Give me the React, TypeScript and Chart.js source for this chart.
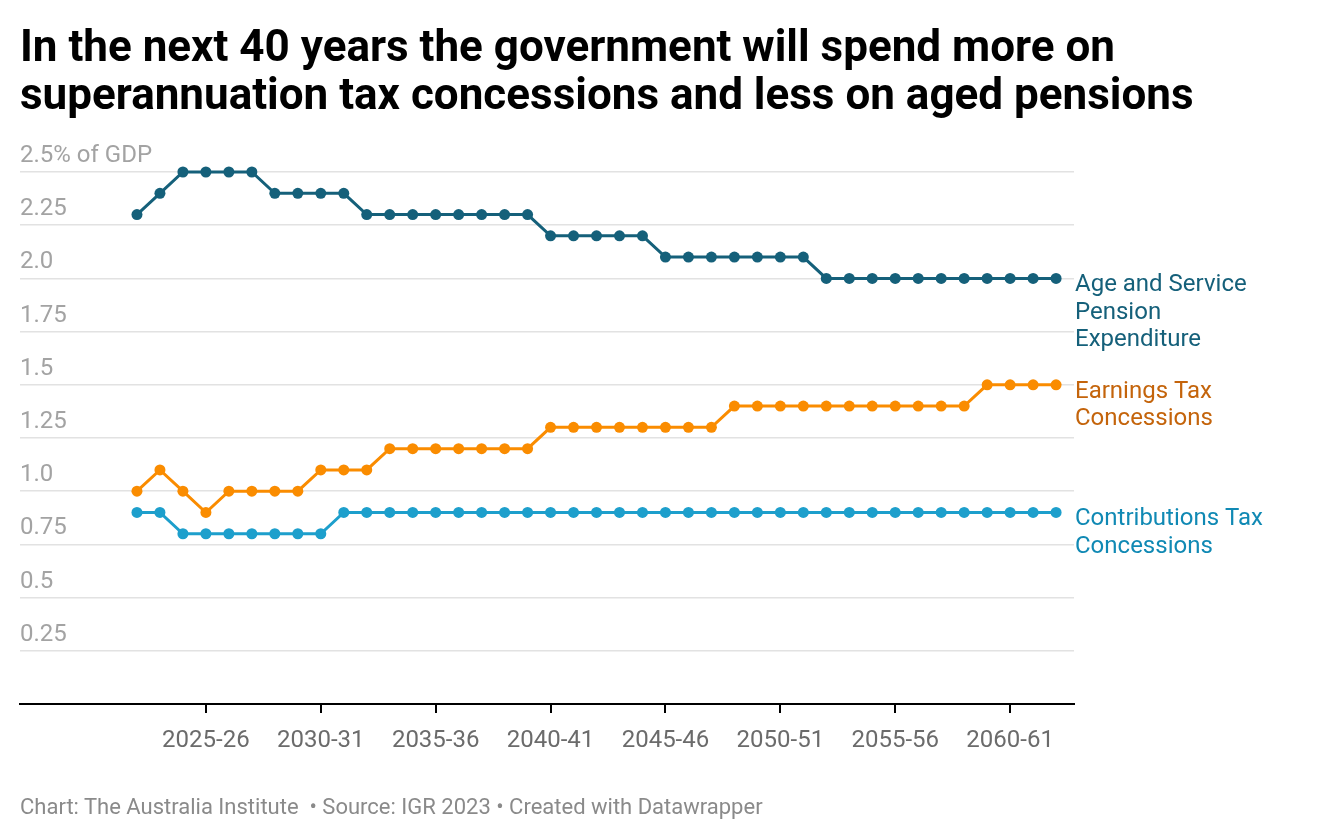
import React, { useEffect, useRef } from "react";
import { Chart, registerables } from "chart.js";

Chart.register(...registerables);

const categories = [
  "2022-23", "2023-24", "2024-25", "2025-26", "2026-27", "2027-28", "2028-29", "2029-30",
  "2030-31", "2031-32", "2032-33", "2033-34", "2034-35", "2035-36", "2036-37", "2037-38",
  "2038-39", "2039-40", "2040-41", "2041-42", "2042-43", "2043-44", "2044-45", "2045-46",
  "2046-47", "2047-48", "2048-49", "2049-50", "2050-51", "2051-52", "2052-53", "2053-54",
  "2054-55", "2055-56", "2056-57", "2057-58", "2058-59", "2059-60", "2060-61", "2061-62",
  "2062-63",
];

const ageServicePension = [
  2.3, 2.4, 2.5, 2.5, 2.5, 2.5, 2.4, 2.4, 2.4, 2.4,
  2.3, 2.3, 2.3, 2.3, 2.3, 2.3, 2.3, 2.3,
  2.2, 2.2, 2.2, 2.2, 2.2,
  2.1, 2.1, 2.1, 2.1, 2.1, 2.1, 2.1,
  2.0, 2.0, 2.0, 2.0, 2.0, 2.0, 2.0, 2.0, 2.0, 2.0, 2.0,
];

const earningsTax = [
  1.0, 1.1, 1.0, 0.9, 1.0, 1.0, 1.0, 1.0, 1.1, 1.1, 1.1,
  1.2, 1.2, 1.2, 1.2, 1.2, 1.2, 1.2,
  1.3, 1.3, 1.3, 1.3, 1.3, 1.3, 1.3, 1.3,
  1.4, 1.4, 1.4, 1.4, 1.4, 1.4, 1.4, 1.4, 1.4, 1.4, 1.4,
  1.5, 1.5, 1.5, 1.5,
];

const contributionsTax = [
  0.9, 0.9, 0.8, 0.8, 0.8, 0.8, 0.8, 0.8, 0.8,
  0.9, 0.9, 0.9, 0.9, 0.9, 0.9, 0.9, 0.9, 0.9, 0.9, 0.9, 0.9, 0.9, 0.9, 0.9, 0.9,
  0.9, 0.9, 0.9, 0.9, 0.9, 0.9, 0.9, 0.9, 0.9, 0.9, 0.9, 0.9, 0.9, 0.9, 0.9, 0.9,
];

const xTickLabels = ["2025-26", "2030-31", "2035-36", "2040-41", "2045-46", "2050-51", "2055-56", "2060-61"];

const yTickValues = [0.25, 0.5, 0.75, 1.0, 1.25, 1.5, 1.75, 2.0, 2.25, 2.5];
const yTickLabels = ["0.25", "0.5", "0.75", "1.0", "1.25", "1.5", "1.75", "2.0", "2.25", "2.5% of GDP"];

const seriesNames = ["Age and Service Pension Expenditure", "Earnings Tax Concessions", "Contributions Tax Concessions"];
const seriesLabelLines = [
  ["Age and Service", "Pension", "Expenditure"],
  ["Earnings Tax", "Concessions"],
  ["Contributions Tax", "Concessions"],
];
const seriesColors = ["#15607a", "#fa8c00", "#1d9fcc"];
const labelColors = ["#15607a", "#c4640b", "#1089b4"];

const TITLE_1 = "In the next 40 years the government will spend more on";
const TITLE_2 = "superannuation tax concessions and less on aged pensions";
const FOOTER = "Chart: The Australia Institute \u00a0\u2022 Source: IGR 2023 \u2022 Created with Datawrapper";

const FONT = "Roboto, 'Noto Sans', sans-serif";

const endLabelsPlugin = {
  id: "endLabels",
  afterDatasetsDraw(chart: any) {
    const ctx = chart.ctx;
    const area = chart.chartArea;
    ctx.save();
    ctx.font = `24px ${FONT}`;
    ctx.textAlign = "left";
    ctx.textBaseline = "middle";
    chart.data.datasets.forEach((ds: any, di: number) => {
      const meta = chart.getDatasetMeta(di);
      const pts = meta.data;
      const last = pts[pts.length - 1];
      if (!last) return;
      ctx.fillStyle = labelColors[di];
      seriesLabelLines[di].forEach((line: string, li: number) => {
        ctx.fillText(line, area.right + 1, last.y + 7 + li * 27.5);
      });
    });
    ctx.restore();
  },
};

export default function App() {
  const canvasRef = useRef<HTMLCanvasElement | null>(null);

  useEffect(() => {
    const canvas = canvasRef.current;
    if (!canvas) return;
    const seriesValues = [ageServicePension, earningsTax, contributionsTax];
    const xTickValues = xTickLabels.map((l) => categories.indexOf(l));

    const chart = new Chart(canvas, {
      type: "line",
      data: {
        datasets: seriesValues.map((vals, si) => ({
          label: seriesNames[si],
          data: vals.map((v, i) => ({ x: i, y: v })),
          borderColor: seriesColors[si],
          backgroundColor: seriesColors[si],
          pointBackgroundColor: seriesColors[si],
          pointBorderWidth: 0,
          pointRadius: 5.5,
          borderWidth: 3,
          tension: 0,
          clip: false as any,
        })),
      },
      options: {
        animation: false,
        responsive: false,
        devicePixelRatio: 1,
        layout: { padding: { left: 12, right: 238, top: 164, bottom: 68 } },
        plugins: {
          legend: { display: false },
          tooltip: { enabled: false },
          title: { display: false },
        },
        scales: {
          x: {
            type: "linear",
            min: -5.09,
            max: 40.78,
            afterBuildTicks: (scale: any) => {
              scale.ticks = xTickValues.map((v) => ({ value: v }));
            },
            afterFit: (scale: any) => {
              scale.height = 60;
            },
            ticks: {
              autoSkip: false,
              maxRotation: 0,
              padding: 14,
              color: "#6b6b6b",
              font: { family: FONT, size: 24 },
              callback: (value: any) => categories[value as number] ?? "",
            },
            grid: {
              display: true,
              drawOnChartArea: false,
              drawTicks: true,
              tickLength: 9,
              color: "#000",
              lineWidth: 2,
            },
            border: { display: true, color: "#000", width: 2 },
          },
          y: {
            type: "linear",
            min: 0,
            max: 2.5,
            afterBuildTicks: (scale: any) => {
              scale.ticks = [0, ...yTickValues].map((v) => ({ value: v }));
            },
            afterFit: (scale: any) => {
              scale.width = 0;
            },
            ticks: {
              mirror: true,
              padding: 0,
              labelOffset: -16,
              color: "#a3a3a3",
              font: { family: FONT, size: 24 },
              callback: (value: any) => {
                const idx = yTickValues.findIndex((t) => Math.abs(t - value) < 1e-6);
                return idx >= 0 ? yTickLabels[idx] : "";
              },
            },
            grid: {
              drawTicks: false,
              color: (c: any) => (c.tick && c.tick.value === 0 ? "rgba(0,0,0,0)" : "#e2e2e2"),
              lineWidth: 1.5,
            },
            border: { display: false },
          },
        },
      },
      plugins: [endLabelsPlugin],
    });
    return () => chart.destroy();
  }, []);

  return (
    <div style={{ position: "relative", width: 1304, height: 824, fontFamily: FONT }}>
      <canvas
        ref={canvasRef}
        width={1304}
        height={824}
        style={{ position: "absolute", left: 0, top: 0, width: 1304, height: 824 }}
      />
      <div
        style={{
          position: "absolute",
          left: 12,
          top: 14,
          fontFamily: FONT,
          fontWeight: 700,
          fontSize: 44,
          lineHeight: "48px",
          color: "#000",
          whiteSpace: "nowrap",
        }}
      >
        <div>{TITLE_1}</div>
        <div>{TITLE_2}</div>
      </div>
      <div
        style={{
          position: "absolute",
          left: 12,
          top: 786,
          fontFamily: FONT,
          fontSize: 22,
          lineHeight: "26px",
          color: "#8a8a8a",
          whiteSpace: "pre",
        }}
      >
        {FOOTER}
      </div>
    </div>
  );
}
